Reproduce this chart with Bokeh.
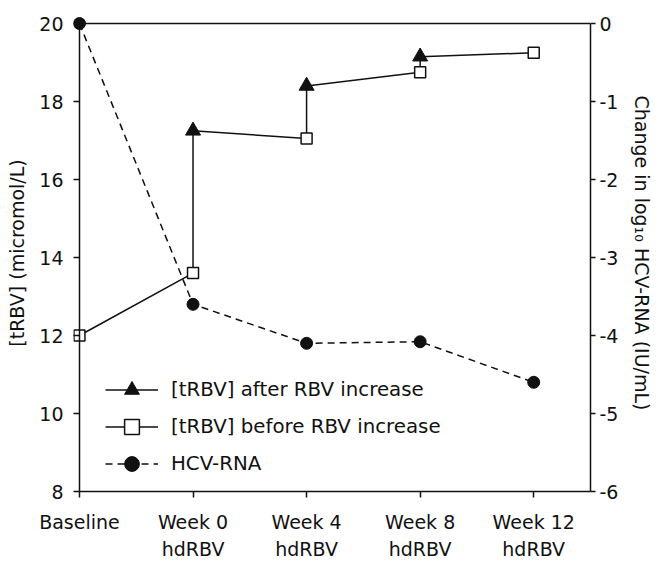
from bokeh.plotting import figure
from bokeh.models import LinearAxis, Range1d, FixedTicker, Legend, LegendItem
from bokeh.embed import file_html
from bokeh.resources import INLINE

# ---- data ----
categories = ["Baseline", "Week 0\nhdRBV", "Week 4\nhdRBV", "Week 8\nhdRBV", "Week 12\nhdRBV"]
x_pos = [0, 1, 2, 3, 4]
trbv_before = [12.0, 13.6, 17.05, 18.75, 19.25]          # open squares
trbv_after = [None, 17.25, 18.4, 19.15, None]            # filled triangles
hcv_change = [0.0, -3.6, -4.1, -4.08, -4.6]              # change in log10 HCV-RNA

left_ticks = [8, 10, 12, 14, 16, 18, 20]
right_ticks = [-6, -5, -4, -3, -2, -1, 0]
right_tick_labels = ["-6", "-5", "-4", "-3", "-2", "-1", "0"]

FONT = "DejaVu Sans"
BLACK = "#111111"

# zig-zag path through before/after values
path_x, path_y = [], []
for xi, b, a in zip(x_pos, trbv_before, trbv_after):
    path_x.append(xi); path_y.append(b)
    if a is not None:
        path_x.append(xi); path_y.append(a)

after_x = [xi for xi, a in zip(x_pos, trbv_after) if a is not None]
after_y = [a for a in trbv_after if a is not None]

p = figure(width=656, height=563, output_backend="svg", toolbar_location=None,
           x_range=Range1d(-0.0525, 4.5), y_range=Range1d(8, 20.2308),
           x_axis_type=None, y_axis_type=None,
           min_border_left=73, min_border_right=63, min_border_top=14, min_border_bottom=72)
p.extra_y_ranges = {"hcv": Range1d(-6, 0.1154)}
p.outline_line_color = None
p.xgrid.visible = False
p.ygrid.visible = False
p.background_fill_color = "white"
p.border_fill_color = "white"

def style_axis(ax, fs="19px"):
    ax.axis_line_color = BLACK
    ax.axis_line_width = 1.5
    ax.major_tick_line_color = BLACK
    ax.major_tick_line_width = 1.5
    ax.major_tick_in = 0
    ax.major_tick_out = 6
    ax.minor_tick_line_color = None
    ax.major_label_text_font = FONT
    ax.major_label_text_font_size = fs
    ax.major_label_text_color = BLACK
    ax.axis_label_text_font = FONT
    ax.axis_label_text_font_size = fs
    ax.axis_label_text_font_style = "normal"
    ax.axis_label_text_color = BLACK

# bottom axis
xax = LinearAxis(ticker=FixedTicker(ticks=x_pos), bounds=(0, 4.5))
style_axis(xax)
xax.major_label_overrides = {xi: c for xi, c in zip(x_pos, categories)}
xax.major_label_standoff = 13
xax.major_label_text_line_height = 1.25
p.add_layout(xax, "below")

# top frame line
tax = LinearAxis(ticker=FixedTicker(ticks=[]), bounds=(0, 4.5), fixed_location=20)
style_axis(tax)
tax.major_tick_line_color = None
tax.major_tick_out = 0
p.add_layout(tax, "above")

# left axis: tick labels, ticks pointing in towards the Baseline line
lax = LinearAxis(ticker=FixedTicker(ticks=left_ticks), axis_label="[tRBV] (micromol/L)")
style_axis(lax)
lax.axis_line_color = None
lax.major_tick_out = 0
lax.major_tick_in = 6
lax.major_label_standoff = 10
lax.axis_label_standoff = 8
p.add_layout(lax, "left")

# left axis line at Baseline
lax2 = LinearAxis(ticker=FixedTicker(ticks=[]), bounds=(8, 20), fixed_location=0)
style_axis(lax2)
lax2.major_tick_line_color = None
lax2.major_tick_out = 0
p.add_layout(lax2, "left")

# right axis
rax = LinearAxis(y_range_name="hcv", ticker=FixedTicker(ticks=right_ticks), bounds=(-6, 0),
                 axis_label="Change in log\u2081\u2080 HCV-RNA (IU/mL)")
style_axis(rax)
rax.major_tick_out = 5
rax.major_label_overrides = {t: s for t, s in zip(right_ticks, right_tick_labels)}
rax.major_label_standoff = 4
rax.axis_label_standoff = 10
p.add_layout(rax, "right")

# glyphs
path_line = p.line(path_x, path_y, line_color=BLACK, line_width=1.5)
hcv_line = p.line(x_pos, hcv_change, y_range_name="hcv", line_color=BLACK,
                  line_width=1.5, line_dash="7 5")
hcv_pts = p.scatter(x_pos, hcv_change, y_range_name="hcv", marker="circle", size=12,
                    fill_color=BLACK, line_color=BLACK)
tri = p.scatter(after_x, after_y, marker="triangle", size=15, fill_color=BLACK,
                line_color=BLACK)
sq = p.scatter(x_pos, trbv_before, marker="square", size=11, fill_color="white",
               line_color=BLACK, line_width=1.5)

legend = Legend(items=[
    LegendItem(label="[tRBV] after RBV increase", renderers=[path_line, tri]),
    LegendItem(label="[tRBV] before RBV increase", renderers=[path_line, sq]),
    LegendItem(label="HCV-RNA", renderers=[hcv_line, hcv_pts]),
], location=(32, 9), orientation="vertical")
legend.background_fill_alpha = 0
legend.border_line_color = None
legend.padding = 0
legend.margin = 0
legend.spacing = 0
legend.glyph_width = 53
legend.glyph_height = 37
legend.label_height = 37
legend.label_standoff = 13
legend.label_text_font = FONT
legend.label_text_font_size = "19.8px"
legend.label_text_color = BLACK
p.add_layout(legend, "center")

open("out.html", "w").write(file_html(p, INLINE))
